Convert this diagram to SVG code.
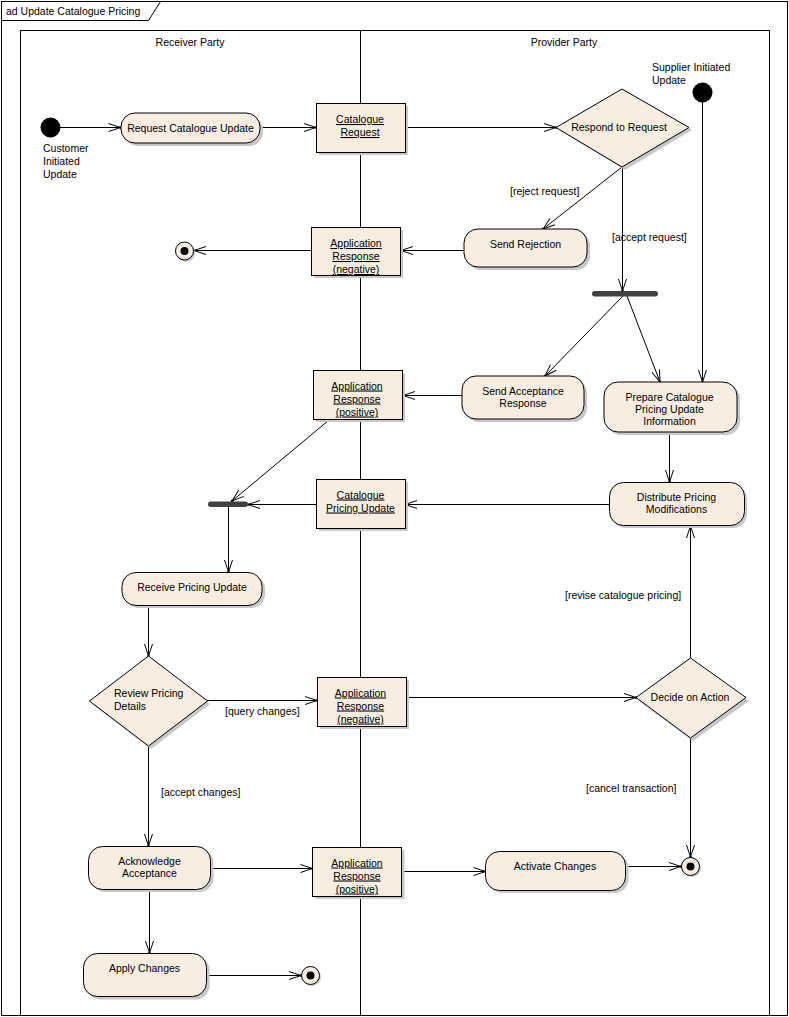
<svg xmlns="http://www.w3.org/2000/svg" width="789" height="1017" viewBox="0 0 789 1017">
<defs>
<marker id="arr" viewBox="0 0 14 10" refX="13" refY="5" markerWidth="14" markerHeight="10" markerUnits="userSpaceOnUse" orient="auto">
<path d="M1,1 L13,5 L1,9" fill="none" stroke="#000" stroke-width="1"/>
<circle cx="13" cy="5" r="1.3" fill="#000"/>
</marker>
</defs>
<style>
text{font-family:"Liberation Sans",Arial,sans-serif;font-size:10.5px;fill:#000}
.c{text-anchor:middle}
.u{text-decoration:underline}
.act{fill:#F7EEE1;stroke:#000;stroke-width:1}
.sh{fill:#C8C8C8;stroke:none}
.obj{fill:#F7EEE1;stroke:#000;stroke-width:1}
.frame{fill:none;stroke:#000;stroke-width:1}
.e{fill:none;stroke:#000;stroke-width:1;marker-end:url(#arr)}
.bar{fill:#404040}
.init{fill:#000}
</style>
<rect x="0" y="0" width="789" height="1017" fill="#fff"/>

<g id="frame">
<rect class="frame" x="1.5" y="1.5" width="786" height="1014"/>
<path class="frame" d="M1.5,20.5 L148.5,20.5 L160.5,1.5"/>
<text x="6" y="15">ad Update Catalogue Pricing</text>
</g>

<g id="lanes">
<rect class="frame" x="20.5" y="30.5" width="749" height="985"/>
<line x1="360.5" y1="30.5" x2="360.5" y2="1015.5" stroke="#000"/>
<text class="c" x="190" y="46">Receiver Party</text>
<text class="c" x="564" y="46">Provider Party</text>
</g>

<g id="connectors">
<line class="e" x1="60" y1="127.5" x2="120.5" y2="127.5"/>
<line class="e" x1="260" y1="127.5" x2="316" y2="127.5"/>
<line class="e" x1="405" y1="127.5" x2="556" y2="127.5"/>
<line class="e" x1="622" y1="167" x2="543" y2="229"/>
<line class="e" x1="622.5" y1="167" x2="622.5" y2="291"/>
<line class="e" x1="702.5" y1="102" x2="702.5" y2="382"/>
<line class="e" x1="623" y1="296" x2="545" y2="376"/>
<line class="e" x1="627" y1="296" x2="660" y2="382"/>
<line class="e" x1="464" y1="250.5" x2="401" y2="250.5"/>
<line class="e" x1="311" y1="250.5" x2="194" y2="250.5"/>
<line class="e" x1="462" y1="395.5" x2="403" y2="395.5"/>
<line class="e" x1="329" y1="420" x2="232" y2="501"/>
<line class="e" x1="669.5" y1="432" x2="669.5" y2="482"/>
<line class="e" x1="610" y1="504.5" x2="405" y2="504.5"/>
<line class="e" x1="316" y1="504.5" x2="248" y2="504.5"/>
<line class="e" x1="228.5" y1="507" x2="228.5" y2="572"/>
<line class="e" x1="148.5" y1="606" x2="148.5" y2="656"/>
<line class="e" x1="207" y1="700.5" x2="317" y2="700.5"/>
<line class="e" x1="406" y1="697.5" x2="636" y2="697.5"/>
<line class="e" x1="690.5" y1="658" x2="690.5" y2="526"/>
<line class="e" x1="690.5" y1="738" x2="690.5" y2="857"/>
<line class="e" x1="148.5" y1="746" x2="148.5" y2="846"/>
<line class="e" x1="211" y1="868.5" x2="312.5" y2="868.5"/>
<line class="e" x1="402" y1="871.5" x2="485.5" y2="871.5"/>
<line class="e" x1="626" y1="866.5" x2="681" y2="866.5"/>
<line class="e" x1="149.5" y1="889" x2="149.5" y2="953"/>
<line class="e" x1="206" y1="975.5" x2="301" y2="975.5"/>
<text x="510" y="194.5">[reject request]</text>
<text x="612" y="240.5">[accept request]</text>
<text x="225" y="714.5">[query changes]</text>
<text x="565" y="598.5">[revise catalogue pricing]</text>
<text x="586" y="791.5">[cancel transaction]</text>
<text x="161" y="795.5">[accept changes]</text>
</g>

<g id="init-customer">
<circle class="init" cx="50.5" cy="127.5" r="10"/>
<text x="43" y="151.5">Customer</text>
<text x="43" y="164.5">Initiated</text>
<text x="43" y="177.5">Update</text>
</g>

<g id="init-supplier">
<circle class="init" cx="702.5" cy="92.5" r="10"/>
<text x="652" y="70.5">Supplier Initiated</text>
<text x="652" y="83.5">Update</text>
</g>

<g id="request-catalogue-update">
<rect class="sh" x="124" y="116" width="139" height="30" rx="14"/>
<rect class="act" x="121" y="113" width="139" height="30" rx="14"/>
<text class="c" x="190.5" y="131.5">Request Catalogue Update</text>
</g>

<g id="catalogue-request">
<rect class="sh" x="319" y="106" width="89" height="49"/>
<rect class="obj" x="316.5" y="103.5" width="89" height="49"/>
<text class="c u" x="360" y="123">Catalogue</text>
<text class="c u" x="360" y="136">Request</text>
</g>

<g id="respond-to-request">
<polygon class="sh" points="559,130 625,92 692,130 625,170"/>
<polygon class="act" points="556,127.5 622,89 689,127.5 622,167"/>
<text class="c" x="619" y="131">Respond to Request</text>
</g>

<g id="send-rejection">
<rect class="sh" x="467" y="232" width="123" height="38" rx="14"/>
<rect class="act" x="464" y="229" width="123" height="38" rx="14"/>
<text class="c" x="525.5" y="247.5">Send Rejection</text>
</g>

<g id="app-response-neg-1">
<rect class="sh" x="314" y="230" width="89" height="48"/>
<rect class="obj" x="311.5" y="227.5" width="89" height="48"/>
<text class="c u" x="356" y="247">Application</text>
<text class="c u" x="356" y="260">Response</text>
<text class="c u" x="356" y="273">(negative)</text>
</g>

<g id="final-1">
<circle class="sh" cx="186" cy="253" r="9"/>
<circle class="act" cx="184.5" cy="251" r="9"/>
<circle class="init" cx="184.5" cy="251" r="4"/>
</g>

<g id="fork-1">
<rect class="bar" x="592" y="291" width="66" height="5.5" rx="2.7"/>
</g>

<g id="send-acceptance">
<rect class="sh" x="465" y="379" width="122" height="43" rx="14"/>
<rect class="act" x="462" y="376" width="122" height="43" rx="14"/>
<text class="c" x="523" y="394.5">Send Acceptance</text>
<text class="c" x="523" y="406.5">Response</text>
</g>

<g id="prepare-catalogue">
<rect class="sh" x="607" y="385" width="133" height="50" rx="14"/>
<rect class="act" x="604" y="382" width="133" height="50" rx="14"/>
<text class="c" x="669.5" y="400.5">Prepare Catalogue</text>
<text class="c" x="669.5" y="412.5">Pricing Update</text>
<text class="c" x="669.5" y="424.5">Information</text>
</g>

<g id="app-response-pos-1">
<rect class="sh" x="316" y="373" width="89" height="49"/>
<rect class="obj" x="313.5" y="370.5" width="89" height="49"/>
<text class="c u" x="357" y="389.5">Application</text>
<text class="c u" x="357" y="402.5">Response</text>
<text class="c u" x="357" y="415.5">(positive)</text>
</g>

<g id="catalogue-pricing-update">
<rect class="sh" x="319" y="482" width="89" height="49"/>
<rect class="obj" x="316.5" y="479.5" width="89" height="49"/>
<text class="c u" x="360.5" y="498.5">Catalogue</text>
<text class="c u" x="360.5" y="511.5">Pricing Update</text>
</g>

<g id="distribute-pricing">
<rect class="sh" x="612" y="485" width="135" height="43" rx="14"/>
<rect class="act" x="609.5" y="482.5" width="135" height="43" rx="14"/>
<text class="c" x="676.5" y="500.5">Distribute Pricing</text>
<text class="c" x="676.5" y="512.5">Modifications</text>
</g>

<g id="fork-2">
<rect class="bar" x="208" y="501.5" width="40" height="5.5" rx="2.7"/>
</g>

<g id="receive-pricing-update">
<rect class="sh" x="125" y="575" width="140" height="33" rx="14"/>
<rect class="act" x="122" y="572.5" width="140" height="33" rx="14"/>
<text class="c" x="192" y="590.5">Receive Pricing Update</text>
</g>

<g id="review-pricing-details">
<polygon class="sh" points="92,704 151,659 210,704 151,749"/>
<polygon class="act" points="89.5,701 148.5,656 207.5,701 148.5,746"/>
<text x="114" y="696.5">Review Pricing</text>
<text x="114" y="709.5">Details</text>
</g>

<g id="app-response-neg-2">
<rect class="sh" x="320" y="680" width="89" height="49"/>
<rect class="obj" x="317.5" y="677.5" width="89" height="49"/>
<text class="c u" x="360.5" y="696.5">Application</text>
<text class="c u" x="360.5" y="709.5">Response</text>
<text class="c u" x="360.5" y="722.5">(negative)</text>
</g>

<g id="decide-on-action">
<polygon class="sh" points="639,701 693,661 749,701 693,741"/>
<polygon class="act" points="636,697.5 690.5,658 746,697.5 690.5,738"/>
<text class="c" x="690" y="700.5">Decide on Action</text>
</g>

<g id="final-2">
<circle class="sh" cx="692" cy="868" r="9"/>
<circle class="act" cx="690.5" cy="866.5" r="9"/>
<circle class="init" cx="690.5" cy="866.5" r="4"/>
</g>

<g id="acknowledge-acceptance">
<rect class="sh" x="91.5" y="849" width="122" height="43" rx="14"/>
<rect class="act" x="88.5" y="846.5" width="122" height="43" rx="14"/>
<text class="c" x="149.5" y="864.5">Acknowledge</text>
<text class="c" x="149.5" y="876.5">Acceptance</text>
</g>

<g id="app-response-pos-2">
<rect class="sh" x="315.5" y="850" width="89" height="49"/>
<rect class="obj" x="312.5" y="847.5" width="89" height="49"/>
<text class="c u" x="357" y="866.5">Application</text>
<text class="c u" x="357" y="879.5">Response</text>
<text class="c u" x="357" y="892.5">(positive)</text>
</g>

<g id="activate-changes">
<rect class="sh" x="488.5" y="854" width="140" height="39" rx="14"/>
<rect class="act" x="485.5" y="851.5" width="140" height="39" rx="14"/>
<text class="c" x="555" y="870">Activate Changes</text>
</g>

<g id="apply-changes">
<rect class="sh" x="86.5" y="956.5" width="123" height="43" rx="14"/>
<rect class="act" x="83.5" y="953.5" width="123" height="43" rx="14"/>
<text class="c" x="144.5" y="972">Apply Changes</text>
</g>

<g id="final-3">
<circle class="sh" cx="312" cy="977" r="9"/>
<circle class="act" cx="310.5" cy="975.5" r="9"/>
<circle class="init" cx="310.5" cy="975.5" r="4"/>
</g>
</svg>
